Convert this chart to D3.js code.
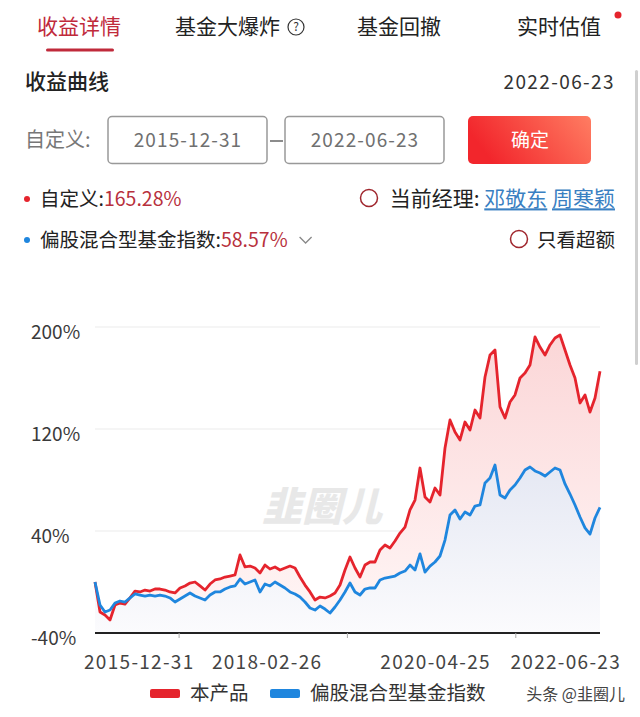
<!DOCTYPE html>
<html><head><meta charset="utf-8">
<script src="https://cdn.jsdelivr.net/npm/d3@7"></script>
<style>
html,body{margin:0;padding:0;background:#fff;overflow:hidden;}
svg{display:block;font-family:"Noto Sans CJK SC","Noto Sans",sans-serif;}
</style></head><body>
<svg id="c" width="640" height="717"></svg>
<script>
// ---------------- data ----------------
const startDate = "2015-12-31";
const endDate = "2022-06-23";
const tabs = ["收益详情", "基金大爆炸", "基金回撤", "实时估值"];
const fundName = "本产品";
const indexName = "偏股混合型基金指数";
const fundReturn = "165.28%";
const indexReturn = "58.57%";
const managers = ["邓敬东", "周寒颖"];
const yTicks = [-40, 40, 120, 200];
const xLabels = ["2015-12-31", "2018-02-26", "2020-04-25", "2022-06-23"];

const fundValues = [0.0, -23.5, -25.9, -29.8, -18.0, -16.5, -17.3, -12.5, -7.1, -7.8,
  -6.3, -7.1, -5.5, -5.5, -6.3, -7.8, -8.6, -4.7, -3.1, -0.8,
  0.0, -3.1, -6.3, -1.6, 1.6, 2.4, 3.9, 4.7, 5.5, 21.2,
  11.8, 12.5, 11.0, 7.1, 13.3, 10.2, 11.8, 9.4, 11.0, 12.5,
  11.0, 3.9, -2.4, -7.8, -14.1, -11.8, -12.5, -11.0, -8.6, -2.4,
  9.4, 19.6, 11.0, 3.9, 13.3, 15.7, 15.7, 25.1, 29.0, 26.7,
  32.2, 38.4, 43.1, 56.5, 64.3, 89.4, 66.7, 62.7, 73.7, 68.2,
  105.1, 127.1, 117.6, 111.4, 125.5, 119.2, 134.9, 128.6, 160.8, 178.0,
  182.0, 137.3, 128.6, 141.2, 146.7, 160.0, 163.9, 170.2, 192.2, 184.3,
  178.0, 185.9, 191.4, 193.7, 182.0, 170.2, 160.0, 140.4, 146.7, 133.3,
  144.3, 165.3];

const indexValues = [0.0, -18.0, -23.5, -22.0, -16.5, -14.9, -15.7, -12.5, -9.4, -10.2,
  -11.0, -10.2, -11.0, -10.2, -11.0, -12.5, -15.7, -13.3, -11.0, -8.6,
  -11.0, -12.5, -14.1, -10.2, -7.8, -7.8, -5.5, -3.9, -3.1, 2.4,
  -1.6, 0.0, 1.6, -7.8, -1.6, -3.1, 0.0, -2.4, -4.7, -7.8,
  -9.4, -11.8, -15.7, -20.4, -22.0, -18.8, -21.2, -24.3, -19.6, -14.1,
  -7.8, -0.8, -7.8, -10.2, -5.5, -4.7, -4.7, 1.6, 3.1, 3.9,
  4.7, 7.1, 8.6, 13.3, 9.4, 22.0, 7.8, 12.5, 15.7, 20.4,
  32.9, 52.5, 56.5, 49.4, 54.9, 52.5, 59.6, 60.4, 77.6, 81.6,
  91.8, 68.2, 65.9, 72.2, 76.1, 81.6, 87.8, 90.2, 87.1, 85.5,
  83.1, 86.3, 89.4, 87.8, 76.9, 69.0, 60.4, 51.0, 42.4, 37.6,
  50.2, 58.6];

// ---------------- setup ----------------
const RED = "#e5242d", BLUE = "#1f86de", DARKRED = "#b8303c";
const svg = d3.select("#c");
const parse = d3.timeParse("%Y-%m-%d");
const t0 = parse(startDate), t1 = parse(endDate);
const n = fundValues.length;
const dates = fundValues.map((_, i) => new Date(+t0 + (t1 - t0) * i / (n - 1)));

const x = d3.scaleTime().domain([t0, t1]).range([95, 600]);
const y = d3.scaleLinear().domain([-40, 200]).range([633, 327]);

// ---------------- header ----------------
const tabX = [37, 175, 357, 517];
tabs.forEach((t, i) => {
  svg.append("text").attr("x", tabX[i]).attr("y", 27).attr("dy", "0.35em")
    .attr("font-size", 21).attr("fill", i === 0 ? "#c02a3b" : "#222").text(t);
});
svg.append("rect").attr("x", 46).attr("y", 48.5).attr("width", 68).attr("height", 3)
  .attr("rx", 1.5).attr("fill", "#c02a3b");
svg.append("circle").attr("cx", 296).attr("cy", 27).attr("r", 8)
  .attr("fill", "none").attr("stroke", "#333").attr("stroke-width", 1.2);
svg.append("text").attr("x", 296).attr("y", 27).attr("dy", "0.36em").attr("text-anchor", "middle")
  .attr("font-size", 12).attr("fill", "#333").text("?");
svg.append("circle").attr("cx", 618).attr("cy", 15).attr("r", 3.5).attr("fill", "#e5242d");

// scrollbar
svg.append("rect").attr("x", 635).attr("y", 70).attr("width", 3).attr("height", 295)
  .attr("rx", 1.5).attr("fill", "#cfcfcf");

svg.append("text").attr("x", 25).attr("y", 82).attr("dy", "0.35em")
  .attr("font-size", 21).attr("font-weight", 500).attr("fill", "#222").text("收益曲线");
svg.append("text").attr("x", 615).attr("y", 82).attr("dy", "0.35em").attr("text-anchor", "end")
  .attr("font-size", 19).attr("letter-spacing", 1.4).attr("fill", "#333").text(endDate);

// date inputs
svg.append("text").attr("x", 25).attr("y", 140).attr("dy", "0.35em")
  .attr("font-size", 20).attr("fill", "#777").text("自定义:");
[[108, startDate], [285, endDate]].forEach(([bx, txt]) => {
  svg.append("rect").attr("x", bx).attr("y", 116.5).attr("width", 159).attr("height", 47)
    .attr("rx", 4).attr("fill", "#fff").attr("stroke", "#999").attr("stroke-width", 1.5);
  svg.append("text").attr("x", bx + 80).attr("y", 140).attr("dy", "0.35em").attr("text-anchor", "middle")
    .attr("font-size", 19).attr("letter-spacing", 1.1).attr("fill", "#707070").text(txt);
});
svg.append("line").attr("x1", 270).attr("x2", 283).attr("y1", 141).attr("y2", 141)
  .attr("stroke", "#666").attr("stroke-width", 1.5);

const defs = svg.append("defs");
const bg = defs.append("linearGradient").attr("id", "btn").attr("x1", 0).attr("x2", 1).attr("y1", 0.3).attr("y2", 0);
bg.append("stop").attr("offset", 0).attr("stop-color", "#f2262c");
bg.append("stop").attr("offset", 1).attr("stop-color", "#ff7d62");
svg.append("rect").attr("x", 468).attr("y", 116).attr("width", 123).attr("height", 48)
  .attr("rx", 5).attr("fill", "url(#btn)");
svg.append("text").attr("x", 530).attr("y", 140).attr("dy", "0.35em").attr("text-anchor", "middle")
  .attr("font-size", 19).attr("fill", "#fff").text("确定");

// legend rows
function row(yy, color, label, value) {
  svg.append("circle").attr("cx", 27).attr("cy", yy).attr("r", 3).attr("fill", color);
  const t = svg.append("text").attr("x", 40).attr("y", yy).attr("dy", "0.35em").attr("font-size", 19.5);
  t.append("tspan").attr("fill", "#222").text(label + ":");
  t.append("tspan").attr("fill", DARKRED).text(value);
  return t;
}
row(199, RED, "自定义", fundReturn);
const r2 = row(240, BLUE, indexName, indexReturn);
const r2w = r2.node().getComputedTextLength();
svg.append("path").attr("d", `M${40 + r2w + 12},${237} l6,6 l6,-6`)
  .attr("fill", "none").attr("stroke", "#888").attr("stroke-width", 1.3);

svg.append("circle").attr("cx", 369).attr("cy", 198).attr("r", 8.5)
  .attr("fill", "none").attr("stroke", "#a0272e").attr("stroke-width", 1.5);
const mt = svg.append("text").attr("x", 615).attr("y", 199).attr("dy", "0.35em")
  .attr("text-anchor", "end").attr("font-size", 21);
mt.append("tspan").attr("fill", "#222").text("当前经理: ");
mt.append("tspan").attr("fill", "#3a80c2").attr("text-decoration", "underline").text(managers[0]);
mt.append("tspan").attr("fill", "#3a80c2").text(" ");
mt.append("tspan").attr("fill", "#3a80c2").attr("text-decoration", "underline").text(managers[1]);

svg.append("circle").attr("cx", 519).attr("cy", 239).attr("r", 8.5)
  .attr("fill", "none").attr("stroke", "#a0272e").attr("stroke-width", 1.5);
svg.append("text").attr("x", 615).attr("y", 240).attr("dy", "0.35em").attr("text-anchor", "end")
  .attr("font-size", 19.5).attr("fill", "#222").text("只看超额");

// ---------------- chart ----------------
const rg = defs.append("linearGradient").attr("id", "rg").attr("x1", 0).attr("x2", 0).attr("y1", 0).attr("y2", 1);
rg.append("stop").attr("offset", 0).attr("stop-color", "#fbd6d7");
rg.append("stop").attr("offset", 1).attr("stop-color", "#fff7f7");
const blg = defs.append("linearGradient").attr("id", "blg").attr("x1", 0).attr("x2", 0).attr("y1", 0).attr("y2", 1);
blg.append("stop").attr("offset", 0).attr("stop-color", "#e5e8f3");
blg.append("stop").attr("offset", 1).attr("stop-color", "#fbfbfd");

// grid
svg.append("g").selectAll("line").data(yTicks.filter(d => d !== -40)).join("line")
  .attr("x1", 95).attr("x2", 600).attr("y1", d => y(d)).attr("y2", d => y(d))
  .attr("stroke", "#ececec").attr("stroke-width", 1.2);
svg.append("g").selectAll("text").data(yTicks).join("text")
  .attr("x", 31).attr("y", d => y(d) + 5).attr("dy", "0.35em")
  .attr("font-size", 19).attr("fill", "#3a3a3a").text(d => d + "%");

const area = vals => d3.area().x((d, i) => x(dates[i])).y0(y(-40)).y1(d => y(d))(vals);
const line = vals => d3.line().x((d, i) => x(dates[i])).y(d => y(d))(vals);

svg.append("path").attr("d", area(fundValues)).attr("fill", "url(#rg)");
svg.append("path").attr("d", area(indexValues)).attr("fill", "url(#blg)");

// watermark
svg.append("text").attr("x", 322).attr("y", 521).attr("text-anchor", "middle")
  .attr("font-size", 40).attr("font-weight", 900).attr("font-style", "italic")
  .attr("fill", "#d6d6d6").attr("opacity", 0.55).text("韭圈儿");

svg.append("path").attr("d", line(fundValues)).attr("fill", "none")
  .attr("stroke", RED).attr("stroke-width", 2.8).attr("stroke-linejoin", "round");
svg.append("path").attr("d", line(indexValues)).attr("fill", "none")
  .attr("stroke", BLUE).attr("stroke-width", 2.8).attr("stroke-linejoin", "round");

// x axis
svg.append("line").attr("x1", 95).attr("x2", 600).attr("y1", y(-40)).attr("y2", y(-40))
  .attr("stroke", "#222").attr("stroke-width", 2);
const labelDates = xLabels.map(parse);
const tickDates = d3.pairs(labelDates).map(([a, b]) => new Date((+a + +b) / 2));
svg.append("g").selectAll("line").data(tickDates).join("line")
  .attr("x1", d => x(d)).attr("x2", d => x(d)).attr("y1", y(-40)).attr("y2", y(-40) + 5)
  .attr("stroke", "#aaa").attr("stroke-width", 1);
svg.append("g").selectAll("text").data(labelDates).join("text")
  .attr("x", (d, i) => x(d) + (i === 0 ? -11 : i === labelDates.length - 1 ? 21 : 4))
  .attr("y", 662).attr("dy", "0.35em")
  .attr("text-anchor", (d, i) => i === 0 ? "start" : i === labelDates.length - 1 ? "end" : "middle")
  .attr("font-size", 19).attr("letter-spacing", 1.3).attr("fill", "#444").text((d, i) => xLabels[i]);

// bottom legend
svg.append("rect").attr("x", 150).attr("y", 689).attr("width", 30).attr("height", 9).attr("rx", 2).attr("fill", RED);
svg.append("text").attr("x", 190).attr("y", 693).attr("dy", "0.35em").attr("font-size", 19.5).attr("fill", "#333").text(fundName);
svg.append("rect").attr("x", 270).attr("y", 689).attr("width", 30).attr("height", 9).attr("rx", 2).attr("fill", BLUE);
svg.append("text").attr("x", 310).attr("y", 693).attr("dy", "0.35em").attr("font-size", 19.5).attr("fill", "#333").text(indexName);
svg.append("text").attr("x", 625).attr("y", 694).attr("dy", "0.35em").attr("text-anchor", "end")
  .attr("font-size", 16).attr("fill", "#444").text("头条 @韭圈儿");
</script>
</body></html>
